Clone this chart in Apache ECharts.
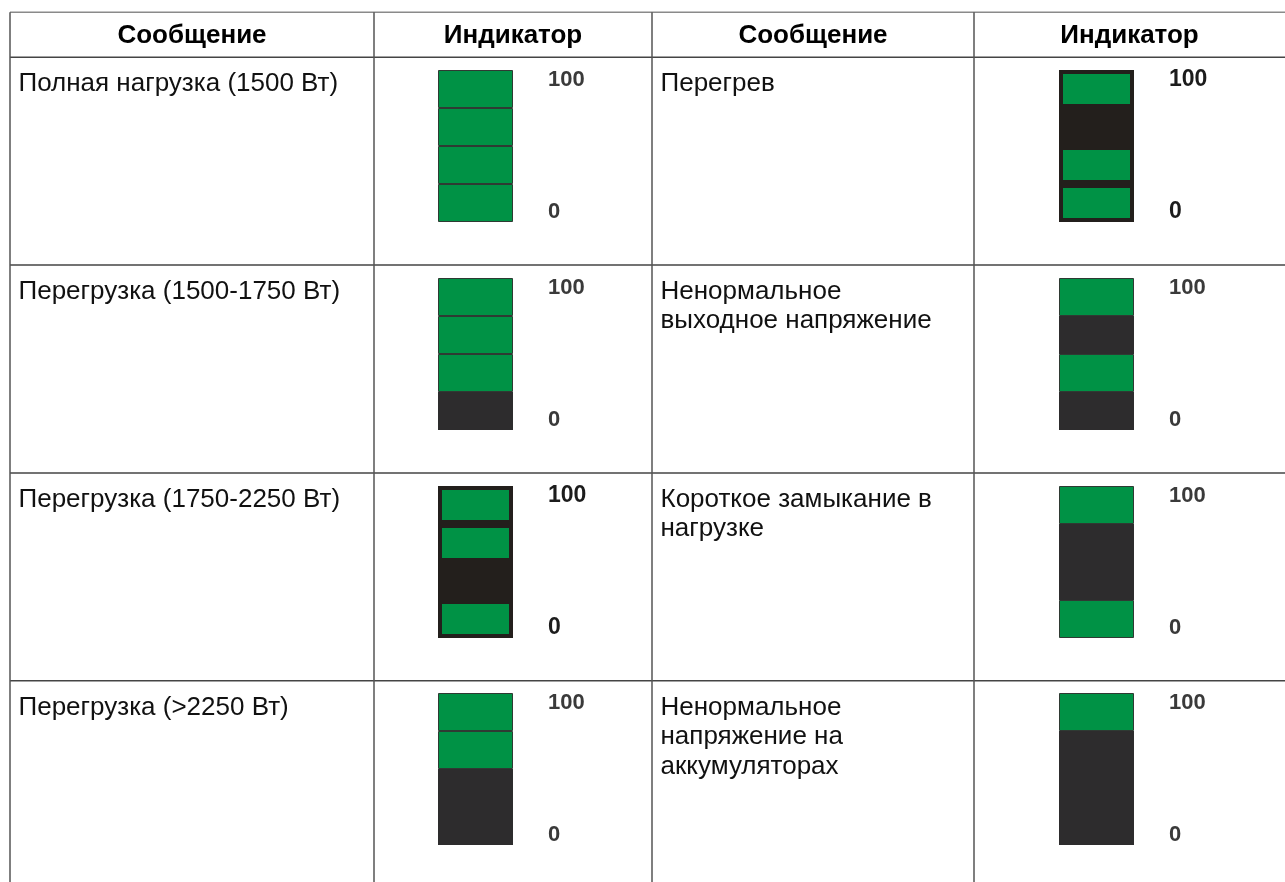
<!DOCTYPE html>
<html><head><meta charset="utf-8">
<script src="https://cdn.jsdelivr.net/npm/echarts@6/dist/echarts.min.js"></script>
<style>html,body{margin:0;padding:0;background:#fff}#c{width:1285px;height:882px}</style>
</head><body><div id="c"></div>
<script>
// ---- data ----
const headers = ['Сообщение', 'Индикатор', 'Сообщение', 'Индикатор'];
const leftMessages = ['Полная нагрузка (1500 Вт)', 'Перегрузка (1500-1750 Вт)', 'Перегрузка (1750-2250 Вт)', 'Перегрузка (>2250 Вт)'];
const rightMessages = ['Перегрев', 'Ненормальное\nвыходное напряжение', 'Короткое замыкание в\nнагрузке', 'Ненормальное\nнапряжение на\nаккумуляторах'];
// indicator segments, top to bottom: G = green (lit), D = dark (off)
const leftSegments = ['GGGG', 'GGGD', 'GGDG', 'GGDD'];
const rightSegments = ['GDGG', 'GDGD', 'GDDG', 'GDDD'];
const leftFramed = [false, false, true, false];
const rightFramed = [true, false, false, false];
const segmentValue = [25, 25, 25, 25];
const scaleTicks = ['0', '100'];

// ---- layout ----
const colX = [10, 374, 652, 974, 1285];
const rowY = [12.3, 57.3, 265, 473, 680.7];
const bottomY = 882;
const FONT = 'Liberation Sans';
const GREEN = '#009245';

const messages = leftMessages.concat(rightMessages);
const segments = leftSegments.concat(rightSegments);
const framed = leftFramed.concat(rightFramed);

const graphic = [];
rowY.forEach((y, i) => {
  graphic.push({type: 'line', shape: {x1: colX[0], y1: y, x2: colX[4], y2: y},
    style: {stroke: i === 0 ? '#8a8a8a' : '#444', lineWidth: 1.5}, silent: true});
});
colX.slice(0, 4).forEach(x => {
  graphic.push({type: 'line', shape: {x1: x, y1: rowY[0], x2: x, y2: bottomY},
    style: {stroke: '#555', lineWidth: 1.5}, silent: true});
});
headers.forEach((h, i) => {
  graphic.push({type: 'text', x: (colX[i] + colX[i + 1]) / 2, y: 36,
    style: {text: h, fontFamily: FONT, fontSize: 26, fontWeight: 'bold', fill: '#000', align: 'center', verticalAlign: 'middle'}, silent: true});
});
messages.forEach((m, i) => {
  const c = i < 4 ? 0 : 2, r = i % 4;
  graphic.push({type: 'text', x: colX[c] + 8.5, y: rowY[r + 1] + 12,
    style: {text: m, fontFamily: FONT, fontSize: 26, fill: '#111', align: 'left', verticalAlign: 'top', lineHeight: 29.5}, silent: true});
});

const grids = [], xAxes = [], yAxes = [], series = [];
segments.forEach((seg, i) => {
  const c = i < 4 ? 0 : 1, r = i % 4;
  const fr = framed[i];
  grids.push({left: c === 0 ? 438 : 1059, top: Math.round(rowY[r + 1] + 12.7), width: 75, height: 152});
  xAxes.push({gridIndex: i, type: 'category', data: [''], show: false});
  const lblColor = fr ? '#1c1c1c' : '#3a3a3a';
  const lblSize = fr ? 23 : 22;
  yAxes.push({gridIndex: i, type: 'value', min: 0, max: 100, interval: 100, position: 'right',
    axisLine: {show: false}, axisTick: {show: false}, splitLine: {show: false},
    axisLabel: {margin: 35, color: lblColor, fontSize: lblSize, fontWeight: 'bold', fontFamily: FONT,
      formatter: v => v === 100 ? '{t|' + scaleTicks[1] + '}' : '{b|' + scaleTicks[0] + '}',
      rich: {
        t: {padding: [19, 0, 0, 0], color: lblColor, fontSize: lblSize, fontWeight: 'bold', fontFamily: FONT},
        b: {padding: [0, 0, 20, 0], color: lblColor, fontSize: lblSize, fontWeight: 'bold', fontFamily: FONT}
      }}});
  const dark = fr ? '#231f1c' : '#2d2c2d';
  for (let k = 0; k < 4; k++) {
    const state = seg[3 - k];
    const col = state === 'G' ? GREEN : dark;
    series.push({type: 'bar', xAxisIndex: i, yAxisIndex: i, stack: 'ind' + i, barWidth: '100%',
      data: [segmentValue[k]], silent: true, z: state === 'G' ? 3 : 2,
      itemStyle: fr ? {color: col, borderColor: '#231f1c', borderWidth: 4}
                    : {color: col, borderColor: state === 'G' ? '#2f3a33' : dark, borderWidth: state === 'G' ? 1 : 0}});
  }
});

const chart = echarts.init(document.getElementById('c'), null, {renderer: 'canvas'});
chart.setOption({animation: false, backgroundColor: '#fff', grid: grids, xAxis: xAxes, yAxis: yAxes, series, graphic});
</script></body></html>
